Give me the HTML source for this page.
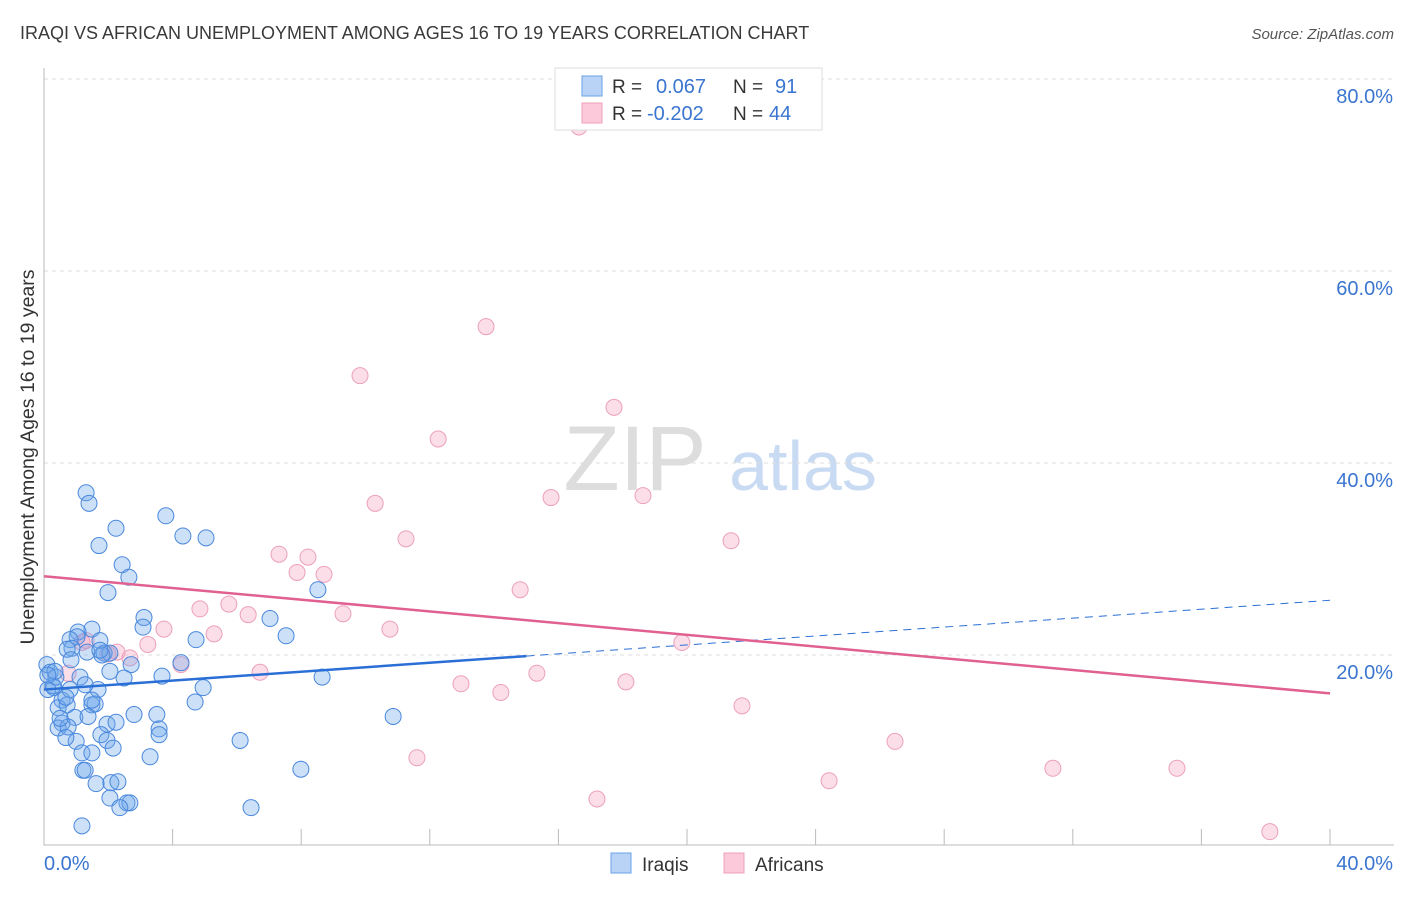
<!DOCTYPE html>
<html><head><meta charset="utf-8"><style>
body{margin:0;background:#fff;font-family:"Liberation Sans",sans-serif}
svg text{font-family:"Liberation Sans",sans-serif}
</style></head><body>
<svg id="c" width="1406" height="892">
<text x="20" y="39" font-size="18" fill="#3a3a3a">IRAQI VS AFRICAN UNEMPLOYMENT AMONG AGES 16 TO 19 YEARS CORRELATION CHART</text>
<text x="1394" y="39" font-size="15" fill="#555" font-style="italic" text-anchor="end">Source: ZipAtlas.com</text>
<text transform="translate(34,457) rotate(-90)" font-size="19.5" fill="#333" text-anchor="middle">Unemployment Among Ages 16 to 19 years</text>
<g><text x="635" y="490" font-size="92" fill="#ddd" font-family="Liberation Serif,serif" text-anchor="middle">ZIP</text><text x="803" y="490" font-size="70" fill="#c9daf3" text-anchor="middle">atlas</text></g>
<g id="grid"></g><g id="marks"></g>
<g>
<rect x="555" y="68" width="267" height="62" fill="#fff" stroke="#ddd"/>
<rect x="582" y="76" width="20" height="20" fill="#b8d3f5" stroke="#6aa0e6"/>
<rect x="582" y="103" width="20" height="20" fill="#fbc9d9" stroke="#eea0ba"/>
<text x="612" y="93" font-size="19" fill="#333">R = </text><text x="656" y="93" font-size="20" fill="#3a75d0">0.067</text>
<text x="733" y="93" font-size="19" fill="#333">N = </text><text x="775" y="93" font-size="20" fill="#3a75d0">91</text>
<text x="612" y="120" font-size="19" fill="#333">R = </text><text x="647" y="120" font-size="20" fill="#3a75d0">-0.202</text>
<text x="733" y="120" font-size="19" fill="#333">N = </text><text x="769" y="120" font-size="20" fill="#3a75d0">44</text>
</g>
<g>
<rect x="611" y="853" width="20" height="20" fill="#b8d3f5" stroke="#6aa0e6"/>
<text x="642" y="871" font-size="19" fill="#333">Iraqis</text>
<rect x="724" y="853" width="20" height="20" fill="#fbc9d9" stroke="#eea0ba"/>
<text x="755" y="871" font-size="19" fill="#333">Africans</text>
</g>
</svg>
<script>
const blueX=[1.31,1.40,2.24,1.71,3.79,4.32,5.04,2.43,2.64,1.99,3.11,3.08,1.49,1.06,1.03,0.81,1.74,0.87,1.34,1.87,2.05,1.80,0.72,0.09,0.19,0.31,0.56,0.12,0.28,1.12,0.37,0.81,1.68,2.49,2.71,0.44,0.72,1.49,1.59,0.96,1.37,0.56,0.44,0.75,1.00,1.96,2.24,1.77,1.96,1.18,0.68,1.21,1.28,1.49,2.15,1.62,2.08,2.30,2.05,2.58,2.67,2.36,1.18,2.80,3.67,4.26,4.73,4.95,4.70,3.51,3.58,3.58,3.30,6.10,6.44,7.03,7.53,8.52,8.65,7.99,10.86,0.50,1.28,0.84,0.34,0.12,2.05,0.68,1.74,1.49];
const blueY=[36.9,35.8,33.2,31.4,34.5,32.4,32.2,29.4,28.1,26.5,23.9,22.9,22.7,22.4,21.9,21.6,21.5,20.7,20.3,20.2,20.2,20.0,20.6,19.0,18.2,16.6,15.3,16.4,16.8,17.7,17.7,16.4,16.4,17.6,19.0,14.5,14.8,14.8,14.9,13.5,13.6,12.9,12.4,12.5,11.0,12.8,13.0,11.7,11.1,9.8,11.4,8.0,8.0,9.8,10.3,6.6,6.7,6.8,5.1,4.6,4.6,4.1,2.2,13.8,17.8,19.2,21.6,16.6,15.1,13.8,12.3,11.7,9.4,11.1,4.1,23.8,22.0,26.8,17.7,8.1,13.6,13.4,16.9,19.5,18.3,17.9,18.3,15.6,20.5,15.3];
const pinkX=[16.64,13.75,9.83,12.26,17.73,10.30,15.77,18.63,11.26,21.37,7.31,8.21,7.87,8.71,14.81,5.75,4.85,6.35,9.30,3.73,5.29,10.76,3.23,19.84,2.27,1.31,1.18,2.67,4.26,6.72,0.75,12.97,14.21,15.33,18.10,21.71,26.47,11.60,24.42,31.38,35.24,17.20,38.13,1.99];
const pinkY=[75.0,54.2,49.1,42.5,45.8,35.8,36.4,36.6,32.1,31.9,30.5,30.2,28.6,28.4,26.8,25.3,24.8,24.2,24.3,22.7,22.2,22.7,21.1,21.3,20.3,21.5,21.3,19.7,19.0,18.2,18.1,17.0,16.1,18.1,17.2,14.7,11.0,9.3,6.9,8.2,8.2,5.0,1.6,20.1];
const blueTrend=[16.4,25.7];
const pinkTrend=[28.2,16.0];
const yTicks=[20,40,60,80];
const NS='http://www.w3.org/2000/svg';
const X=v=>44+v*32.15, Y=v=>847-v*9.6;
function mk(t,a,p){const e=document.createElementNS(NS,t);for(const k in a)e.setAttribute(k,a[k]);p.appendChild(e);return e;}
const g=document.getElementById('grid'),m=document.getElementById('marks');
yTicks.forEach(t=>{
 const l=mk('line',{x1:44,x2:1394,y1:Y(t),y2:Y(t),stroke:'#ddd','stroke-dasharray':'4,4'},g);
 
 
 const tx=mk('text',{x:1393,y:Y(t)+24,'font-size':20,fill:'#3a75d0','text-anchor':'end'},g);tx.textContent=t.toFixed(1)+'%';
 
 
});
const ax=mk('path',{d:'M44,68V845H1394',stroke:'#bbb',fill:'none'},g);


for(let i=0;i<=10;i++){const t=mk('line',{x1:X(i*4),x2:X(i*4),y1:829,y2:845,stroke:'#bbb'},g);
 
 }
[['0.0%',44,'start'],['40.0%',1393,'end']].forEach(a=>{const t=mk('text',{x:a[1],y:870,'font-size':20,fill:'#3a75d0','text-anchor':a[2]},g);t.textContent=a[0];
 
 });
function dots(xs,ys,fill,stroke,name){xs.forEach((v,i)=>{const c=mk('circle',{cx:X(v),cy:Y(ys[i]),r:8,fill:fill,stroke:stroke,'stroke-width':1},m);
 
 });}
dots(pinkX,pinkY,'rgba(245,160,190,0.35)','#eca0bc','africans-point');
dots(blueX,blueY,'rgba(110,165,235,0.35)','#4a88dc','iraqis-point');
const bf=v=>blueTrend[0]+(blueTrend[1]-blueTrend[0])*v/40;
const bl=mk('line',{x1:X(0),y1:Y(bf(0)),x2:X(15),y2:Y(bf(15)),stroke:'#2a6fd6','stroke-width':2.5},m);


const bd=mk('line',{x1:X(15),y1:Y(bf(15)),x2:X(40),y2:Y(bf(40)),stroke:'#2a6fd6','stroke-width':1,'stroke-dasharray':'8,6'},m);


const pl=mk('line',{x1:X(0),y1:Y(pinkTrend[0]),x2:X(40),y2:Y(pinkTrend[1]),stroke:'#e06090','stroke-width':2.5},m);


</script>
</body></html>
